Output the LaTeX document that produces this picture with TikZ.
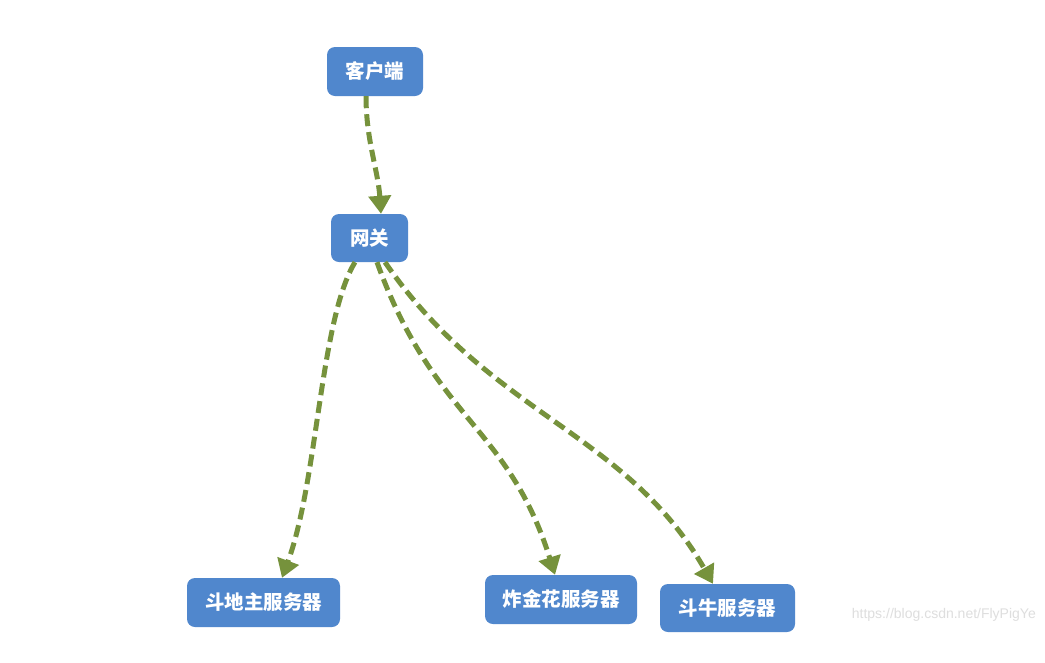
\documentclass[tikz,border=0pt]{standalone}
\usepackage{fontspec}
\newfontfamily\cjk{Noto Sans CJK SC}
\newfontfamily\wm{Liberation Sans}
\usetikzlibrary{arrows.meta}
\definecolor{boxblue}{RGB}{80,135,205}
\definecolor{linkgreen}{RGB}{118,146,60}
\definecolor{wmgray}{RGB}{222,222,222}
\tikzset{
  box/.style={draw=none, fill=boxblue, rounded corners=8pt, text=white,
    font=\cjk\bfseries\fontsize{19.5}{22}\selectfont, inner sep=0pt, minimum height=49pt},
  link/.style={draw=linkgreen, line width=5pt, dash pattern=on 12pt off 6pt,
    -{Triangle[length=18pt,width=22pt]}}
}
\begin{document}
\begin{tikzpicture}[x=1pt,y=-1pt]
\useasboundingbox (0,0) rectangle (1045,662);
\fill[white] (0,0) rectangle (1045,662);
\node[box, minimum width=96pt] (c) at (375,71.5) {客户端};
\node[box, minimum width=77pt, minimum height=48pt] (g) at (369.5,238) {网关};
\node[box, minimum width=153pt] (d) at (263.5,602.5) {斗地主服务器};
\node[box, minimum width=152pt] (z) at (561,599.5) {炸金花服务器};
\node[box, minimum width=135pt, minimum height=48pt] (n) at (727.5,608) {斗牛服务器};
\node[text=wmgray, font=\wm\fontsize{14}{16}\selectfont, anchor=east, inner sep=0pt] (w) at (1036,615) {https://blog.csdn.net/FlyPigYe};
\draw[link] ([xshift=-9pt]c.south) .. controls (366,140) and (378,170) .. ([xshift=11.5pt]g.north);
\draw[link] ([xshift=-14.5pt]g.south) .. controls (320,320) and (318,480) .. ([xshift=18.5pt]d.north);
\draw[link] ([xshift=7.5pt]g.south) .. controls (434,420) and (508,425) .. ([xshift=-6pt]z.north);
\draw[link] ([xshift=15.5pt]g.south) .. controls (490,415) and (626,432) .. ([xshift=-14.5pt]n.north);
\end{tikzpicture}
\end{document}
